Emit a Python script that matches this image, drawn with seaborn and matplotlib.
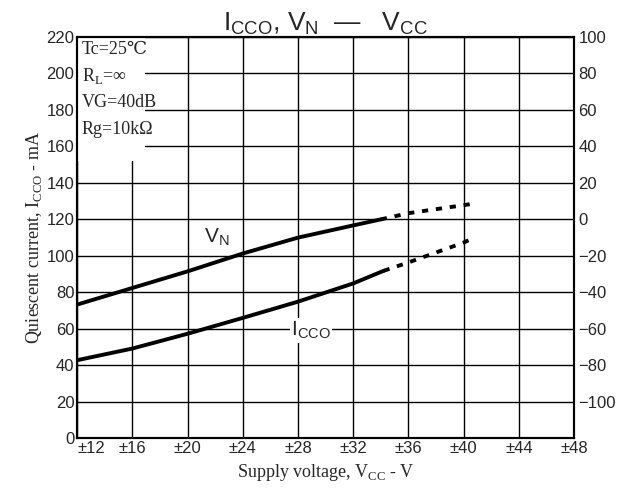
import matplotlib
matplotlib.use('Agg')
import matplotlib.pyplot as plt
from matplotlib.patches import Rectangle
import seaborn as sns

# Supply voltage (+/- V)
vcc_solid_icco = [12, 16, 20, 24, 28, 32, 34.2]
icco_solid = [42.8, 49.2, 57.3, 66.0, 74.9, 84.9, 91.8]          # mA
vcc_dash_icco = [34.2, 36, 40, 40.6]
icco_dash = [91.8, 96.4, 107.3, 109.4]

vcc_solid_vn = [12, 16, 20, 24, 28, 32, 34]
vn_solid = [-46.7, -37.6, -28.5, -18.7, -10.0, -3.3, 0.0]        # right axis
vcc_dash_vn = [34, 36, 40, 40.6]
vn_dash = [0.0, 3.4, 7.8, 8.5]

x_ticks = [12, 16, 20, 24, 28, 32, 36, 40, 44, 48]
left_ticks = list(range(0, 221, 20))
right_ticks = list(range(-100, 101, 20))

conditions = ['Tc=25\u2103', 'R$_\\mathregular{L}$=\u221e', 'VG=40dB', 'Rg=10k\u03a9']

sns.set_style('white')
plt.rcParams['font.family'] = ['Liberation Sans Narrow', 'Liberation Sans', 'DejaVu Sans']
plt.rcParams['mathtext.fontset'] = 'custom'
plt.rcParams['mathtext.rm'] = 'Liberation Sans'

fig = plt.figure(figsize=(6.22, 4.93), dpi=100)
ax = fig.add_axes([0.124, 0.111, 0.799, 0.814])
ax2 = ax.twinx()

ax.set_xlim(12, 48)
ax.set_ylim(0, 220)
ax2.set_ylim(-120, 100)

ax.set_axisbelow(True)
ax.grid(True, color='black', lw=1.0)
ax.set_xticks(x_ticks)
ax.set_yticks(left_ticks)
ax.set_xticklabels(['\u00b1%d' % v for v in x_ticks], fontsize=12)
ax.set_yticklabels([str(v) for v in left_ticks], fontsize=12)
ax.get_xticklabels()[0].set_horizontalalignment('left')
ax.tick_params(length=0, pad=2)
ax2.set_yticks(right_ticks)
ax2.set_yticklabels([str(v).replace('-', '\u2212') for v in right_ticks], fontsize=12)
ax2.tick_params(length=0, pad=3)
for a in (ax, ax2):
    for s in a.spines.values():
        s.set_color('black')
        s.set_linewidth(1.5)

# white area behind the conditions box
ax.add_patch(Rectangle((12, 152), 4.9, 68, facecolor='white', edgecolor='none', zorder=1))
for i, t in enumerate(conditions):
    ax.text(12.35, 213 - i * 14.5, t, fontsize=13, va='center', ha='left', zorder=3,
            family=['Liberation Serif', 'DejaVu Serif'])

dash = (0, (1.6, 2.0))
sns.lineplot(x=vcc_solid_icco, y=icco_solid, ax=ax, color='black', lw=2.8)
sns.lineplot(x=vcc_dash_icco, y=icco_dash, ax=ax, color='black', lw=2.8, linestyle=dash)
sns.lineplot(x=vcc_solid_vn, y=vn_solid, ax=ax2, color='black', lw=2.8)
sns.lineplot(x=vcc_dash_vn, y=vn_dash, ax=ax2, color='black', lw=2.8, linestyle=dash)
ax2.set_ylabel('')

ax.text(22.1, 110, 'V$_\\mathregular{N}$', fontsize=15, ha='center', va='center')
ax.text(27.5, 59, 'I$_\\mathregular{CCO}$', fontsize=15, ha='left', va='center', zorder=3,
        bbox=dict(facecolor='white', edgecolor='none', pad=1))

ax.set_title('I$_\\mathregular{CCO}$, V$_\\mathregular{N}$  \u2014   V$_\\mathregular{CC}$',
             fontsize=19, pad=5)
ax.set_xlabel('Supply voltage, V$_\\mathregular{CC}$ - V', fontsize=13, labelpad=4,
              family=['Liberation Serif'])
ax.set_ylabel('Quiescent current, I$_\\mathregular{CCO}$ - mA', fontsize=13, labelpad=2,
              family=['Liberation Serif'])

fig.savefig('out.png', dpi=100)
